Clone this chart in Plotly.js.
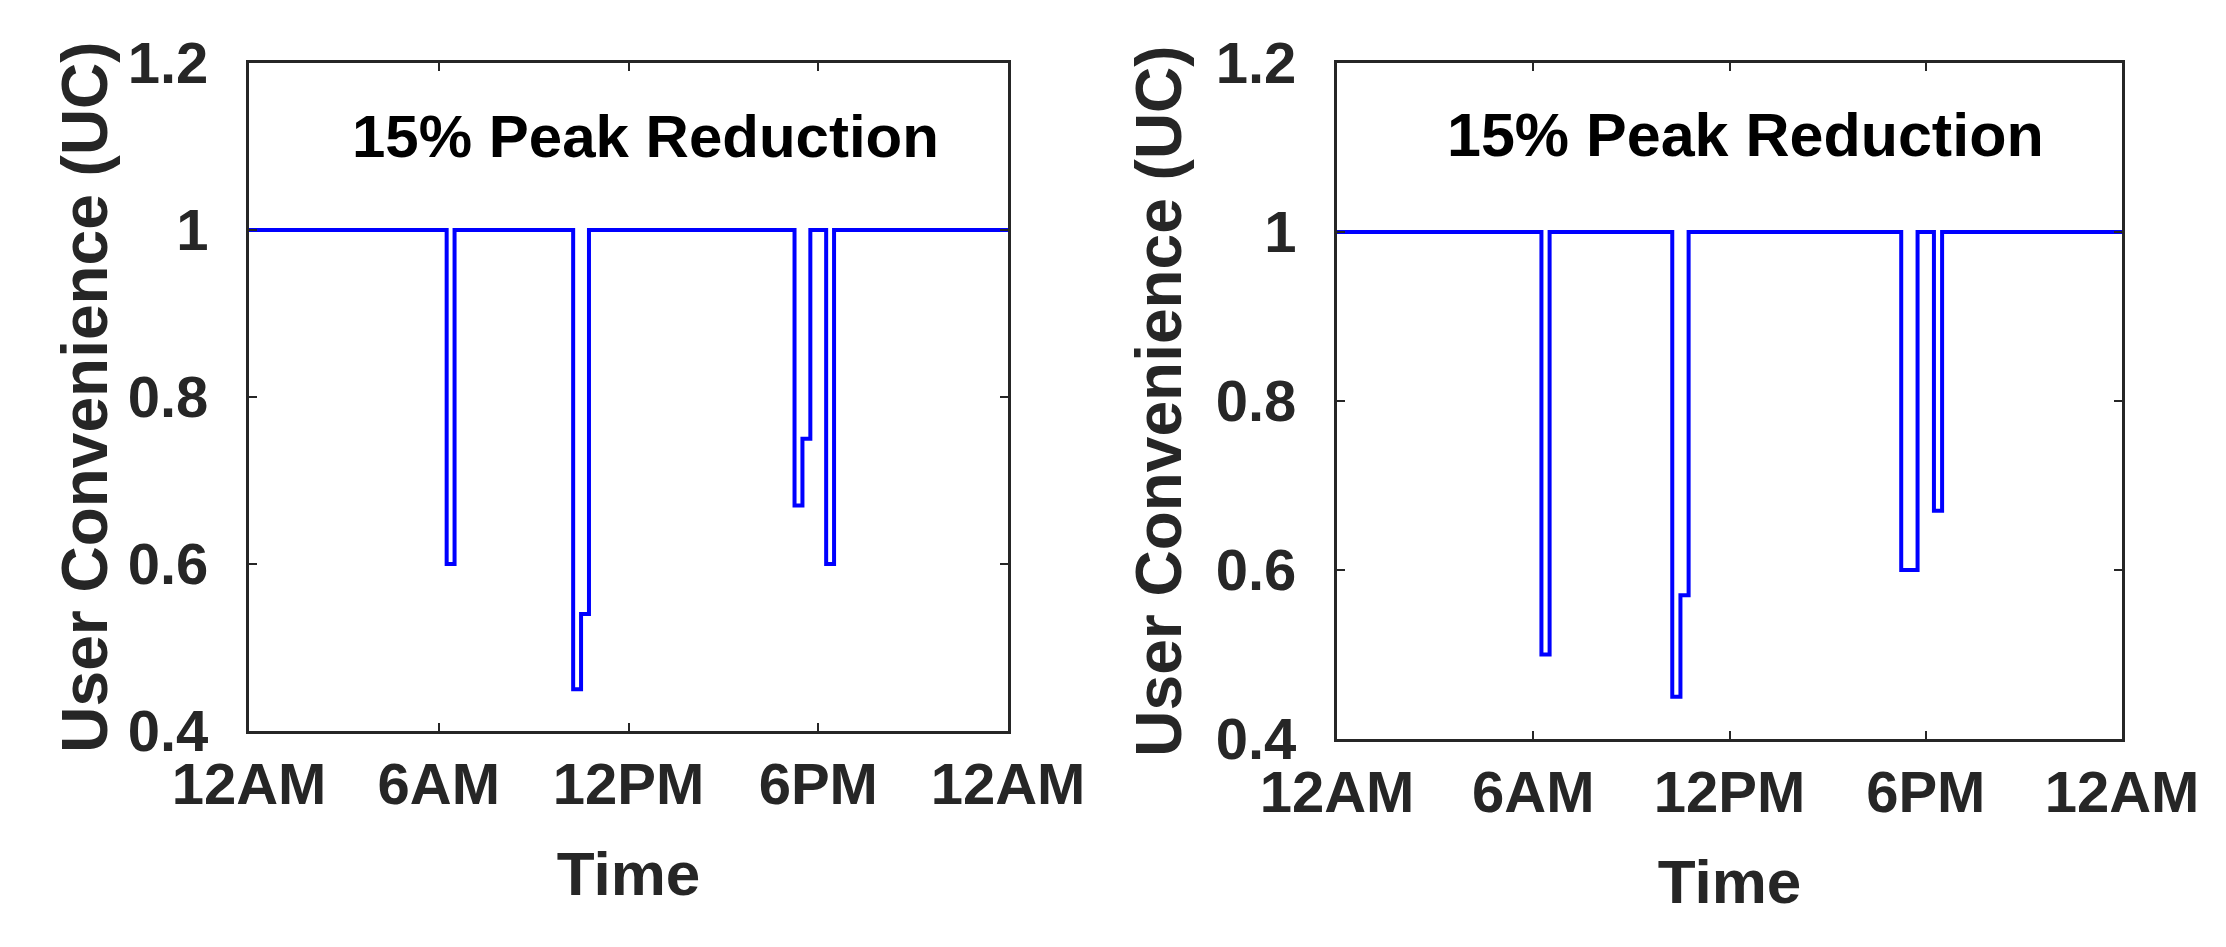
<!DOCTYPE html>
<html><head><meta charset="utf-8">
<script src="https://cdn.plot.ly/plotly-3.0.1.min.js"></script>
<style>html,body{margin:0;padding:0;background:#fff;overflow:hidden}</style>
</head><body><div id="chart" style="width:2226px;height:947px"></div>
<script>
// Tick positions (hours of day) and labels
const hourTicks = [0, 6, 12, 18, 24];
const hourLabels = ['12AM', '6AM', '12PM', '6PM', '12AM'];
const ucTicks = [0.4, 0.6, 0.8, 1, 1.2];
const ucLabels = ['0.4', '0.6', '0.8', '1', '1.2'];

// Left panel: change points (hours) and user convenience values (stairs)
const leftTimes = [0, 6.25, 6.5, 10.25, 10.5, 10.75, 17.25, 17.5, 17.75, 18.25, 18.5, 24];
const leftUC    = [1, 0.6,  1,   0.45,  0.54, 1,     0.67,  0.75, 1,     0.6,   1,    1];

// Right panel
const rightTimes = [0, 6.25, 6.5, 10.25, 10.5, 10.75, 17.25, 17.75, 18.25, 18.5, 24];
const rightUC    = [1, 0.5,  1,   0.45,  0.57, 1,     0.6,   1,     0.67,  1,    1];

const panelLabel = '15% Peak Reduction';
const xTitle = 'Time';
const yTitle = 'User Convenience (UC)';

const FONT = '"Liberation Sans", Arial, Helvetica, sans-serif';
const AX = '#262626';

function xAxis(domain, anchor) {
  return {
    domain: domain, anchor: anchor, range: [0, 24],
    tickmode: 'array', tickvals: hourTicks, ticktext: hourLabels,
    ticks: 'inside', ticklen: 8, tickwidth: 2, tickcolor: AX,
    showline: true, linecolor: AX, linewidth: 3, mirror: 'ticks',
    showgrid: false, zeroline: false,
    ticklabelstandoff: 0,
    tickfont: {family: FONT, size: 58, color: AX, weight: 'bold'},
    title: {text: xTitle, standoff: 38, font: {family: FONT, size: 62, color: AX, weight: 'bold'}}
  };
}
function yAxis(domain, anchor, titleStandoff) {
  return {
    domain: domain, anchor: anchor, range: [0.4, 1.2],
    tickmode: 'array', tickvals: ucTicks, ticktext: ucLabels,
    ticks: 'inside', ticklen: 8, tickwidth: 2, tickcolor: AX,
    showline: true, linecolor: AX, linewidth: 3, mirror: 'ticks',
    showgrid: false, zeroline: false,
    ticklabelstandoff: 26,
    tickfont: {family: FONT, size: 58, color: AX, weight: 'bold'},
    title: {text: yTitle, standoff: titleStandoff, font: {family: FONT, size: 64, color: AX, weight: 'bold'}}
  };
}

const W = 2226, H = 947;
const traces = [
  {x: leftTimes, y: leftUC, xaxis: 'x', yaxis: 'y', type: 'scatter', mode: 'lines',
   line: {shape: 'hv', color: '#0000ff', width: 4}, hoverinfo: 'x+y'},
  {x: rightTimes, y: rightUC, xaxis: 'x2', yaxis: 'y2', type: 'scatter', mode: 'lines',
   line: {shape: 'hv', color: '#0000ff', width: 4}, hoverinfo: 'x+y'}
];

const layout = {
  width: W, height: H, autosize: false,
  margin: {l: 0, r: 0, t: 0, b: 0, pad: 0},
  paper_bgcolor: '#fff', plot_bgcolor: '#fff',
  showlegend: false,
  xaxis: xAxis([249 / W, 1008 / W], 'y'),
  yaxis: yAxis([1 - 731 / H, 1 - 63 / H], 'x', 0),
  xaxis2: xAxis([1337 / W, 2122 / W], 'y2'),
  yaxis2: yAxis([1 - 739 / H, 1 - 63 / H], 'x2', 14),
  annotations: [
    {xref: 'x', yref: 'y', x: 12.55, y: 1.112, text: panelLabel, showarrow: false,
     xanchor: 'center', yanchor: 'middle', font: {family: FONT, size: 60, color: '#000', weight: 'bold'}},
    {xref: 'x2', yref: 'y2', x: 12.5, y: 1.115, text: panelLabel, showarrow: false,
     xanchor: 'center', yanchor: 'middle', font: {family: FONT, size: 61, color: '#000', weight: 'bold'}}
  ]
};

Plotly.newPlot('chart', traces, layout, {displayModeBar: false});
</script>
</body></html>
